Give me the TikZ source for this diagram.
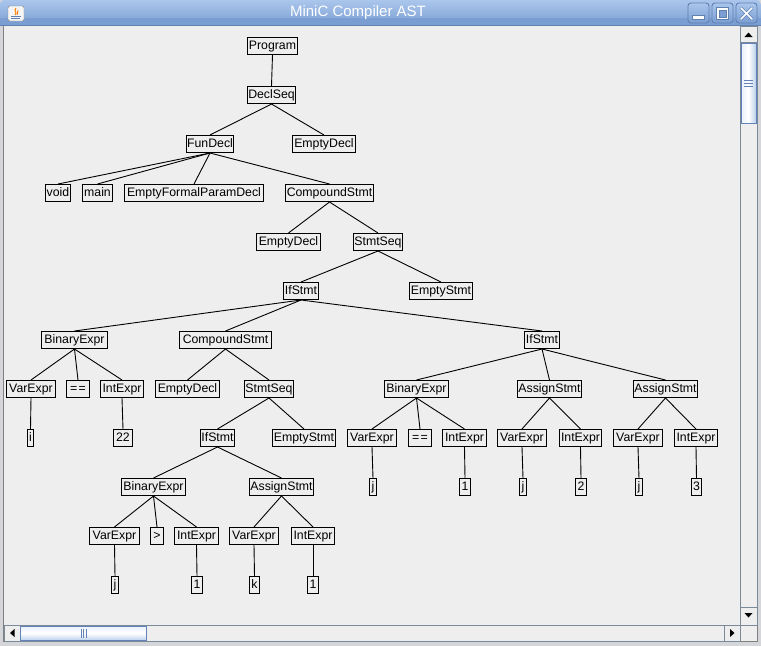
\documentclass[tikz,border=0pt]{standalone}
\usepackage{fontspec}
\setmainfont{Liberation Sans}
\definecolor{panelbg}{RGB}{238,238,238}
\definecolor{titletop}{RGB}{170,198,236}
\definecolor{titlebot}{RGB}{122,158,210}
\definecolor{frameblue}{RGB}{96,128,178}
\definecolor{framegray}{RGB}{212,214,218}
\definecolor{edgegray}{RGB}{122,138,153}
\definecolor{thumbblue}{RGB}{99,130,184}
\definecolor{thumblight}{RGB}{232,240,250}
\definecolor{thumbdark}{RGB}{184,207,236}
% one tree node: name, left x, right x, row, label
\newcommand\astnode[5]{%
  \pgfmathsetmacro\nodecx{(#2+#3)/2}%
  \pgfmathsetmacro\nodewd{#3-#2-0.5}%
  \pgfmathsetmacro\nodecy{46+49*(#4-1)}%
  \node[astbox, minimum width=\nodewd pt] (#1) at (\nodecx,\nodecy) {#5};}
\begin{document}
\begin{tikzpicture}[x=1pt,y=-1pt,
  astbox/.style={draw=black, line width=1pt, fill=panelbg, inner sep=0pt,
    minimum height=17pt, text height=8.8pt, text depth=2.5pt,
    font=\fontsize{12.3}{14}\selectfont, text=black},
  edge/.style={draw=black, line width=0.9pt},
  sbbox/.style={draw=edgegray, line width=0.8pt, fill=panelbg},
  wbtn/.style={draw=frameblue, line width=0.9pt, rounded corners=3pt,
    top color=titletop, bottom color=titlebot}]
\useasboundingbox (0,0) rectangle (761,646);

% window frame and title bar
\fill[framegray] (0,0) rectangle (761,646);
\draw[gray, line width=1pt] (3.5,25) -- (3.5,641.5) -- (757.5,641.5) -- (757.5,25);
\shade[top color=titletop, bottom color=titlebot, rounded corners=4pt]
  (0,0) rectangle (761,26);
\fill[titlebot] (0,18) rectangle (761,26);
\draw[frameblue, line width=0.8pt] (0,25.5) -- (761,25.5);
\node[font=\fontsize{15}{18}\selectfont, text=white] (title) at (358,12.5) {MiniC Compiler AST};

% application icon
\draw[gray, fill=white!92!gray, rounded corners=1.5pt] (8,6) rectangle (24,21);
\draw[orange, line width=1pt] (16,8) .. controls (13,11) and (18,12) .. (15,15);
\draw[orange!80!red, line width=0.8pt] (18,10) .. controls (16.5,12) and (19,13) .. (17,15);
\draw[frameblue, line width=0.9pt] (11,16.5) -- (21,16.5) (11,18.5) -- (20,18.5);

% window buttons
\draw[wbtn] (688,3) rectangle (709,23);
\draw[wbtn] (712,3) rectangle (733,23);
\draw[wbtn] (736,3) rectangle (757,23);
\draw[frameblue, fill=white, line width=0.6pt] (692.5,15.5) rectangle (704.5,19);
\draw[frameblue, fill=white, line width=0.6pt] (716.5,7.5) rectangle (728.5,19.5);
\draw[frameblue, fill=titlebot, line width=0.6pt] (719,10.5) rectangle (726,17);
\draw[frameblue, line width=3pt, line cap=round] (741,8) -- (752,19) (752,8) -- (741,19);
\draw[white, line width=1.6pt, line cap=round] (741,8) -- (752,19) (752,8) -- (741,19);

% scroll pane
\fill[panelbg] (4,26) rectangle (757,641);

% vertical scrollbar
\draw[sbbox] (740.5,26) rectangle (757,625);
\draw[sbbox] (740.5,26) rectangle (757,42.5);
\fill[black] (744.5,37) -- (752.5,37) -- (748.5,32.5) -- cycle;
\shade[left color=thumblight, right color=thumbdark, middle color=white]
  (741,43) rectangle (756,123);
\draw[thumbblue, line width=0.9pt] (741,43) rectangle (756,123);
\foreach \gy in {80,83,86}
  \draw[thumbblue, line width=0.8pt] (744,\gy) -- (753,\gy);
\draw[sbbox] (740.5,607.5) rectangle (757,625);
\fill[black] (744.5,613) -- (752.5,613) -- (748.5,617.5) -- cycle;

% horizontal scrollbar
\draw[sbbox] (4,625.5) rectangle (740.5,641);
\draw[sbbox] (4,625.5) rectangle (20,641);
\fill[black] (14.5,629) -- (14.5,637) -- (10,633) -- cycle;
\shade[top color=thumblight, bottom color=thumbdark, middle color=white]
  (20,626) rectangle (146,640.5);
\draw[thumbblue, line width=0.9pt] (20,626) rectangle (146,640.5);
\foreach \gx in {81,83.5,86}
  \draw[thumbblue, line width=0.8pt] (\gx,628.5) -- (\gx,637.5);
\draw[sbbox] (724.5,625.5) rectangle (740.5,641);
\fill[black] (730,629) -- (730,637) -- (734.5,633) -- cycle;
\fill[panelbg] (741,625.6) rectangle (757,641);

% syntax tree nodes
\astnode{prog}{247}{298}{1}{Program}
\astnode{dseq}{247}{296}{2}{DeclSeq}
\astnode{fdecl}{186}{234}{3}{FunDecl}
\astnode{edeclA}{292}{356}{3}{EmptyDecl}
\astnode{void}{45}{71}{4}{void}
\astnode{main}{82}{113}{4}{main}
\astnode{efpd}{124}{264}{4}{EmptyFormalParamDecl}
\astnode{cstmtA}{285}{374}{4}{CompoundStmt}
\astnode{edeclB}{256}{321}{5}{EmptyDecl}
\astnode{sseqA}{353}{403}{5}{StmtSeq}
\astnode{ifA}{283}{319}{6}{IfStmt}
\astnode{estmtA}{409}{473}{6}{EmptyStmt}
\astnode{binA}{41}{108}{7}{BinaryExpr}
\astnode{cstmtB}{179}{272}{7}{CompoundStmt}
\astnode{ifB}{524}{560}{7}{IfStmt}
\astnode{varA}{6}{56}{8}{VarExpr}
\astnode{eqA}{66}{90}{8}{={}\kern1.2pt=}
\astnode{intA}{100}{144}{8}{IntExpr}
\astnode{edeclC}{155}{220}{8}{EmptyDecl}
\astnode{sseqB}{244}{294}{8}{StmtSeq}
\astnode{binB}{384}{449}{8}{BinaryExpr}
\astnode{asgA}{517}{582}{8}{AssignStmt}
\astnode{asgB}{633}{698}{8}{AssignStmt}
\astnode{leafi}{27}{34}{9}{i}
\astnode{leafxxii}{113}{133}{9}{22}
\astnode{ifC}{200}{235}{9}{IfStmt}
\astnode{estmtB}{272}{336}{9}{EmptyStmt}
\astnode{varB}{347}{397}{9}{VarExpr}
\astnode{eqB}{408}{432}{9}{={}\kern1.2pt=}
\astnode{intB}{442}{487}{9}{IntExpr}
\astnode{varC}{497}{547}{9}{VarExpr}
\astnode{intC}{559}{602}{9}{IntExpr}
\astnode{varD}{613}{663}{9}{VarExpr}
\astnode{intD}{674}{718}{9}{IntExpr}
\astnode{binC}{121}{186}{10}{BinaryExpr}
\astnode{asgC}{249}{314}{10}{AssignStmt}
\astnode{leafjA}{369}{377}{10}{j}
\astnode{leafoneA}{459}{471}{10}{1}
\astnode{leafjB}{519}{527}{10}{j}
\astnode{leaftwo}{575}{587}{10}{2}
\astnode{leafjC}{635}{643}{10}{j}
\astnode{leafthree}{691}{702}{10}{3}
\astnode{varE}{89}{140}{11}{VarExpr}
\astnode{gt}{150}{164}{11}{>}
\astnode{intE}{174}{219}{11}{IntExpr}
\astnode{varF}{229}{279}{11}{VarExpr}
\astnode{intF}{291}{335}{11}{IntExpr}
\astnode{leafjD}{111}{119}{12}{j}
\astnode{leafoneB}{191}{203}{12}{1}
\astnode{leafk}{249}{260}{12}{k}
\astnode{leafoneC}{307}{319}{12}{1}

% parent-child connectors
\foreach \p/\c in {prog/dseq, dseq/fdecl, dseq/edeclA,
    fdecl/void, fdecl/main, fdecl/efpd, fdecl/cstmtA,
    cstmtA/edeclB, cstmtA/sseqA, sseqA/ifA, sseqA/estmtA,
    ifA/binA, ifA/cstmtB, ifA/ifB,
    binA/varA, binA/eqA, binA/intA, varA/leafi, intA/leafxxii,
    cstmtB/edeclC, cstmtB/sseqB, sseqB/ifC, sseqB/estmtB,
    ifC/binC, ifC/asgC, binC/varE, binC/gt, binC/intE,
    varE/leafjD, intE/leafoneB, asgC/varF, asgC/intF,
    varF/leafk, intF/leafoneC,
    ifB/binB, ifB/asgA, ifB/asgB,
    binB/varB, binB/eqB, binB/intB, varB/leafjA, intB/leafoneA,
    asgA/varC, asgA/intC, varC/leafjB, intC/leaftwo,
    asgB/varD, asgB/intD, varD/leafjC, intD/leafthree}
  \draw[edge] (\p.south) -- (\c.north);
\end{tikzpicture}
\end{document}
